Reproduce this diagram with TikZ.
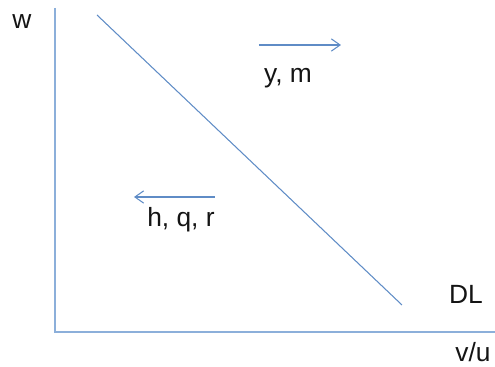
\documentclass[tikz,border=0pt]{standalone}
\usepackage{fontspec}
\setmainfont{Liberation Sans}
\usetikzlibrary{arrows.meta,positioning}
\definecolor{axisblue}{RGB}{140,175,218}
\definecolor{lineblue}{RGB}{95,140,198}
\definecolor{ink}{RGB}{20,20,20}

\begin{document}
\begin{tikzpicture}[x=0.02cm,y=-0.02cm,
  axis/.style={draw=axisblue,line width=1.6pt},
  thinline/.style={draw=lineblue,line width=0.6pt},
  arrow/.style={thinline,-{Straight Barb[length=5pt,width=7pt]}},
  lbl/.style={text=ink,font=\fontsize{15}{18}\selectfont,inner sep=0pt}
]
\useasboundingbox (0,0) rectangle (495,367);
% axes
\coordinate (top) at (55,8);
\coordinate (origin) at (55,332);
\coordinate (right) at (500,332);
\draw[axis] (top) -- (origin) -- (right);
% demand line
\coordinate (dlstart) at (97,15);
\coordinate (dlend) at (402,305);
\draw[thinline] (dlstart) -- (dlend);
% shift arrows
\coordinate (up1) at (259,45);
\coordinate (up2) at (341,45);
\draw[arrow] (up1) -- (up2);
\coordinate (dn1) at (215,197);
\coordinate (dn2) at (134,197);
\draw[arrow] (dn1) -- (dn2);
% labels
\node[lbl] (wlab) at (22,22) {w};
\node[lbl] (vulab) at (473,352) {v/u};
\node[lbl] (ym) at (288,78) {y, m};
\node[lbl] (hqr) at (181,220) {h, q, r};
\node[lbl] (dl) at (466,294) {DL};
\end{tikzpicture}
\end{document}
